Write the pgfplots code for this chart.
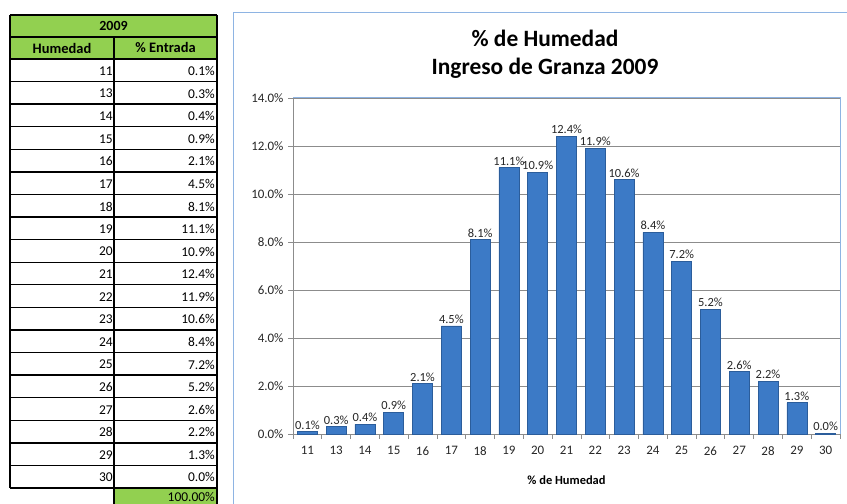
\documentclass[border=0pt]{standalone}
\usepackage{pgfplots}
\pgfplotsset{compat=1.18}
\usepackage{fontspec}
\setmainfont{Carlito}
\definecolor{tgreen}{HTML}{92D050}
\definecolor{bardark}{HTML}{2B5D9B}
\definecolor{barmid}{HTML}{3C7AC6}
\definecolor{frameblue}{HTML}{8EB4E3}
\definecolor{gridgray}{HTML}{8C8C8C}
\begin{document}
\begin{tikzpicture}[x=1bp,y=1bp]
\path[use as bounding box] (0,0) rectangle (847,504);
\clip (0,0) rectangle (847,504);
% ---------- table ----------
\begin{scope}[shift={(0,504)}, yscale=-1]
\fill[tgreen] (10,15) rectangle (217,59);
\fill[tgreen] (114,488) rectangle (217,512);
\node[font=\fontsize{14}{16}\selectfont\bfseries] at (113.5,26) {2009};
\node[font=\fontsize{14.5}{16}\selectfont\bfseries] at (62,48) {Humedad};
\node[font=\fontsize{14.5}{16}\selectfont\bfseries] at (165.5,48) {\% Entrada};
\foreach \h/\v [count=\i from 0] in {11/0.1,13/0.3,14/0.4,15/0.9,16/2.1,17/4.5,18/8.1,19/11.1,20/10.9,21/12.4,22/11.9,23/10.6,24/8.4,25/7.2,26/5.2,27/2.6,28/2.2,29/1.3,30/0.0} {
  \pgfmathsetmacro\yc{59+22.58*\i+12}
  \node[anchor=east,inner sep=1bp,font=\fontsize{13.5}{15}\selectfont] at (114,\yc) {\h};
  \node[anchor=east,inner sep=1bp,font=\fontsize{13.5}{15}\selectfont] at (216,\yc) {\v\%};
}
\node[anchor=east,inner sep=1bp,font=\fontsize{13.5}{15}\selectfont] at (216,497) {100.00\%};
\foreach \i in {0,...,19} {
  \draw[line width=1.4bp] (10,{59+22.58*\i}) -- (217,{59+22.58*\i});
}
\draw[line width=1.2bp] (10,15) -- (217,15);
\draw[line width=1.2bp] (10,37) -- (217,37);
\draw[line width=1.4bp] (10,15) -- (10,488);
\draw[line width=1.8bp] (114,37) -- (114,512);
\draw[line width=1.4bp] (217,15) -- (217,512);
\end{scope}
% ---------- chart frame and title ----------
\begin{scope}[shift={(0,504)}, yscale=-1]
\draw[frameblue, line width=1bp] (233,520) -- (233,13) -- (860,13);
\node[font=\fontsize{23.5}{28}\selectfont\bfseries] at (545,38) {\% de Humedad};
\node[font=\fontsize{23.5}{28}\selectfont\bfseries] at (545,68) {Ingreso de Granza 2009};
\end{scope}
% ---------- chart ----------
\begin{axis}[
  at={(293bp,70bp)}, anchor=south west,
  width=547bp, height=336bp, scale only axis,
  xmin=-0.5, xmax=18.5, ymin=0, ymax=14,
  ytick={0,2,...,14},
  ymajorgrids, grid style={gridgray, line width=0.8bp},
  axis x line*=bottom, axis y line*=left,
  axis line style={gridgray, line width=0.8bp},
  xtick={0,...,18},
  xticklabels={11,13,14,15,16,17,18,19,20,21,22,23,24,25,26,27,28,29,30},
  major x tick style={draw=none},
  minor xtick={-0.5,0.5,...,18.5},
  minor tick length=5bp, major tick length=5bp,
  tick align=outside,
  tick style={gridgray, line width=0.8bp},
  /pgf/number format/assume math mode=true,
  yticklabel={\pgfmathprintnumber[fixed,fixed zerofill,precision=1]{\tick}\%},
  ticklabel style={font=\fontsize{13}{15}\selectfont, text=black!85},
  xticklabel style={yshift=-4bp},
  yticklabel style={xshift=-1bp},
  xlabel={\% de Humedad},
  xlabel style={at={(rel axis cs:0.5,0)}, anchor=center, yshift=-46bp, font=\fontsize{12.5}{14}\selectfont\bfseries},
  clip=false,
]
\draw[frameblue, line width=1bp] (rel axis cs:0,1) -- (rel axis cs:1,1) -- (rel axis cs:1,0);
\addplot[ybar, bar width=20bp, bar shift=0pt, draw=bardark, line width=0.6bp,
  fill=barmid,
  nodes near coords={\pgfmathprintnumber[fixed,fixed zerofill,precision=1]{\pgfplotspointmeta}\%},
  every node near coord/.append style={font=\fontsize{12.5}{14}\selectfont, text=black!85, inner sep=2bp, yshift=0bp}]
coordinates {
(0,0.1) (1,0.3) (2,0.4) (3,0.9) (4,2.1) (5,4.5) (6,8.1) (7,11.1) (8,10.9) (9,12.4)
(10,11.9) (11,10.6) (12,8.4) (13,7.2) (14,5.2) (15,2.6) (16,2.2) (17,1.3) (18,0.04)
};
\end{axis}
\end{tikzpicture}
\end{document}
